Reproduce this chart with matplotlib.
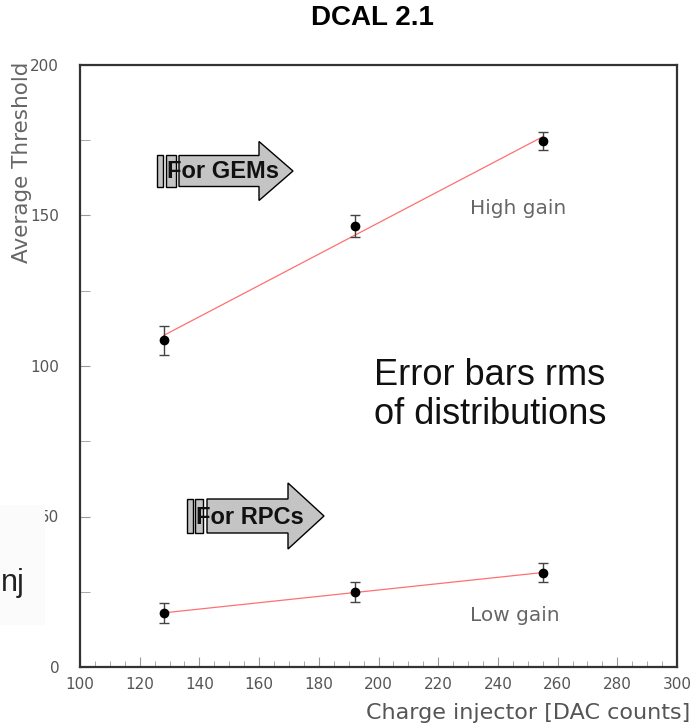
import numpy as np
import matplotlib.pyplot as plt
from matplotlib.patches import Polygon, Rectangle

# data
dac = [128, 192, 255]
high_gain = [108.6, 146.5, 174.6]
high_err = [4.8, 3.7, 3.0]
low_gain = [17.9, 24.9, 31.3]
low_err = [3.3, 3.3, 3.2]

x_ticks = [100, 120, 140, 160, 180, 200, 220, 240, 260, 280, 300]
y_ticks = [0, 50, 100, 150, 200]

W, H = 691, 727
fig = plt.figure(figsize=(W / 100, H / 100), dpi=100)
plt.rcParams['font.family'] = ['Liberation Sans', 'DejaVu Sans']
GREY_FONT = 'DejaVu Sans'


def fx(px):
    return px / W


def fy(py):
    return 1 - py / H


ax = fig.add_axes([fx(80), fy(667), fx(677) - fx(80), fy(65) - fy(667)])

# linear fits through the points
for y, err in [(high_gain, high_err), (low_gain, low_err)]:
    k, b = np.polyfit(dac, y, 1)
    xs = np.array([dac[0], dac[-1]])
    ax.plot(xs, k * xs + b, color='#ff7070', lw=0.9, zorder=2)
    ax.errorbar(dac, y, yerr=err, fmt='o', color='black', ms=6,
                ecolor='#444444', elinewidth=1.0, capsize=3.5, capthick=1.0, zorder=3)

ax.set_xlim(100, 300)
ax.set_ylim(0, 200)
ax.set_xticks(x_ticks)
ax.set_xticks(np.arange(100, 301, 5), minor=True)
ax.set_yticks(y_ticks)
ax.set_yticks(np.arange(0, 201, 25), minor=True)
ax.tick_params(axis='both', which='both', direction='in', colors='#999999',
               labelcolor='#555555', labelsize=11)
ax.tick_params(axis='x', which='major', length=7, pad=7)
ax.tick_params(axis='x', which='minor', length=4)
ax.tick_params(axis='y', which='both', length=7, pad=15)
ax.tick_params(axis='y', which='minor', labelleft=False)
for lab in ax.get_xticklabels() + ax.get_yticklabels():
    lab.set_family(GREY_FONT)
for s in ax.spines.values():
    s.set_color('#333333')
    s.set_linewidth(1.6)

fig.text(fx(22), fy(162), 'Average Threshold', rotation=90, ha='center', va='center',
         fontsize=15.5, color='#666666', family=GREY_FONT)
fig.text(fx(690), fy(713), 'Charge injector [DAC counts]', ha='right', va='center',
         fontsize=16, color='#555555', family=GREY_FONT)
fig.text(fx(372), fy(18), 'DCAL 2.1', ha='center', va='center', fontsize=20,
         fontweight='bold', color='black')

ax.text(fx(470 - 80) * W / 597, 0.762, 'High gain', transform=ax.transAxes, ha='left',
        va='center', fontsize=14.5, color='#666666', family=GREY_FONT)
ax.text(fx(470 - 80) * W / 597, 0.085, 'Low gain', transform=ax.transAxes, ha='left',
        va='center', fontsize=14.5, color='#666666', family=GREY_FONT)

fig.text(fx(374), fy(395), 'Error bars rms\nof distributions', ha='left', va='center',
         fontsize=26, color='#111111', linespacing=1.12)


def arrow(x0, x1, xt, yc, hb, hh, label, bars, tx):
    # body + head polygon in pixel space
    pts = [(x0, yc - hb), (x1, yc - hb), (x1, yc - hh), (xt, yc), (x1, yc + hh),
           (x1, yc + hb), (x0, yc + hb)]
    poly = Polygon([(fx(a), fy(b)) for a, b in pts], closed=True, transform=fig.transFigure,
                   facecolor='#c4c4c4', edgecolor='black', lw=1.0, zorder=5)
    fig.patches.append(poly)
    for bx, bw in bars:
        r = Rectangle((fx(bx), fy(yc + hb)), fx(bw), fy(yc - hb) - fy(yc + hb),
                      transform=fig.transFigure, facecolor='#c4c4c4',
                      edgecolor='black', lw=1.0, zorder=5)
        fig.patches.append(r)
    fig.text(fx(tx), fy(yc + 1), label, ha='left', va='center', fontsize=17,
             fontweight='bold', color='#111111', zorder=6)


arrow(179, 259, 293, 171, 15.5, 29.5, 'For GEMs', [(157, 6), (166, 10)], 167)
arrow(207, 288, 324, 516, 17, 33, 'For RPCs', [(187, 6), (195, 8)], 196)

# pasted label box covering part of the axis
fig.patches.append(Rectangle((0, fy(625)), fx(45), fy(505) - fy(625), transform=fig.transFigure,
                             facecolor='#fbfbfb', edgecolor='none', zorder=4))
fig.text(fx(1), fy(583), 'nj', ha='left', va='center', fontsize=22, color='#222222', zorder=5)

fig.savefig('out.png', dpi=100)
